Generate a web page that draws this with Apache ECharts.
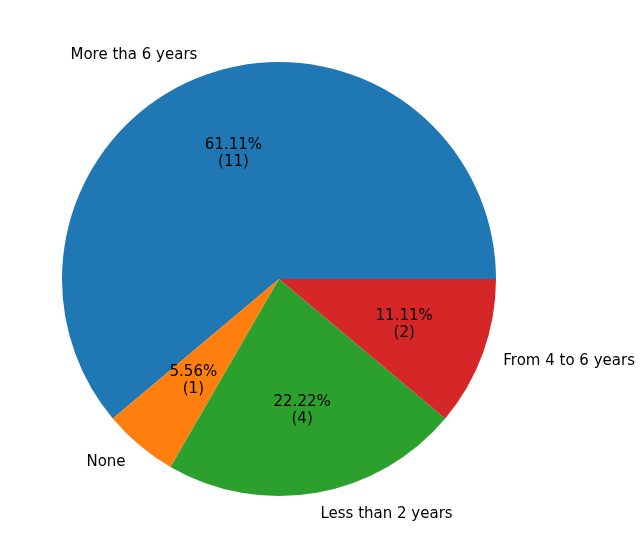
<!DOCTYPE html>
<html lang="en">
<head>
    <meta charset="UTF-8">
    <title>Years of Experience</title>
    <script src="https://cdn.jsdelivr.net/npm/echarts/dist/echarts.min.js"></script>
    <style>
        html, body { margin: 0; padding: 0; background: #fff; }
        #chart { width: 642px; height: 558px; }
    </style>
</head>
<body>
    <div id="chart"></div>
    <script>
        const categories = ['More tha 6 years', 'None', 'Less than 2 years', 'From 4 to 6 years'];
        const counts = [11, 1, 4, 2];
        const colors = ['#1f77b4', '#ff7f0e', '#2ca02c', '#d62728'];

        const total = counts.reduce((a, b) => a + b, 0);
        const R = 217;
        const font = { fontFamily: 'DejaVu Sans', fontSize: 15, color: '#000' };

        const chart = echarts.init(document.getElementById('chart'));
        chart.setOption({
            animation: false,
            series: [
                {
                    type: 'pie',
                    center: [279, 279],
                    radius: [0, R],
                    startAngle: 0,
                    clockwise: false,
                    avoidLabelOverlap: false,
                    data: categories.map((c, i) => ({ name: c, value: counts[i], itemStyle: { color: colors[i] } })),
                    label: Object.assign({
                        position: 'outside',
                        distanceToLabelLine: 0,
                        formatter: '{b}'
                    }, font),
                    labelLine: { show: false, length: R * 0.1, length2: 0 }
                },
                {
                    type: 'pie',
                    silent: true,
                    center: [279, 279],
                    radius: [0, R * 1.2],
                    startAngle: 0,
                    clockwise: false,
                    avoidLabelOverlap: false,
                    itemStyle: { color: 'rgba(0,0,0,0)' },
                    data: categories.map((c, i) => ({ name: c, value: counts[i] })),
                    label: Object.assign({
                        position: 'inside',
                        lineHeight: 17,
                        formatter: p => (p.value / total * 100).toFixed(2) + '%\n(' + p.value + ')'
                    }, font)
                }
            ]
        });
    </script>
</body>
</html>
